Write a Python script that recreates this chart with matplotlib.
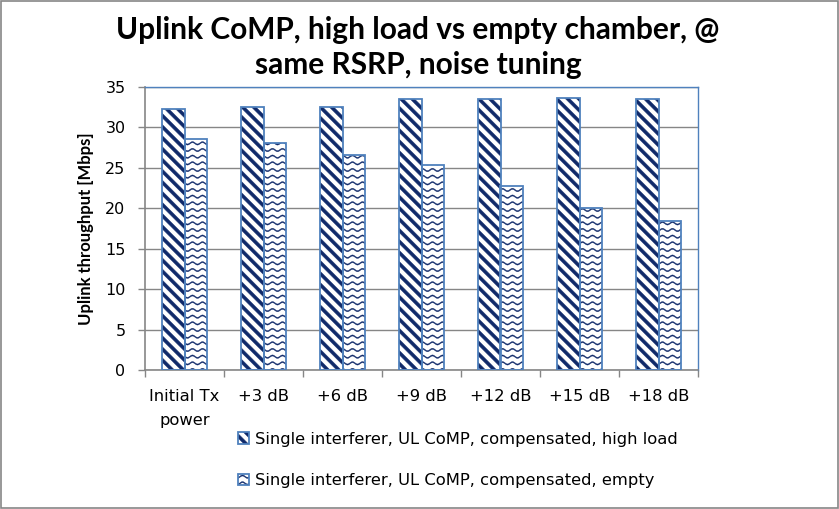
import numpy as np
import matplotlib
matplotlib.use("Agg")
import matplotlib.pyplot as plt
from matplotlib import hatch as mhatch
from matplotlib.path import Path
from matplotlib.patches import Rectangle
from matplotlib.legend_handler import HandlerTuple

# ---- data -------------------------------------------------------------
categories = ["Initial Tx\npower", "+3 dB", "+6 dB", "+9 dB", "+12 dB", "+15 dB", "+18 dB"]
high_load = [32.3, 32.5, 32.5, 33.5, 33.5, 33.7, 33.5]
empty_chamber = [28.6, 28.1, 26.6, 25.4, 22.8, 20.0, 18.4]
series_names = [
    "Single interferer, UL CoMP, compensated, high load",
    "Single interferer, UL CoMP, compensated, empty",
]
y_ticks = [0, 5, 10, 15, 20, 25, 30, 35]
title = "Uplink CoMP, high load vs empty chamber, @\nsame RSRP, noise tuning"
y_label = "Uplink throughput [Mbps]"


# ---- custom fill patterns (office-style wide stripes and waves) --------
class WideStripeHatch(mhatch.HatchPatternBase):
    """Filled diagonal bands running from upper left to lower right ('{')."""
    bands_per_tile = 9
    thickness = 0.045

    def __init__(self, hatch, density):
        n = hatch.count('{')
        self.n_bands = (3 * self.bands_per_tile + 2) if n else 0
        self.num_vertices = self.n_bands * 5

    def set_vertices_and_codes(self, vertices, codes):
        k = np.arange(-2, self.n_bands - 2)
        c = k / self.bands_per_tile
        w = self.thickness
        v = vertices.reshape(self.n_bands, 5, 2)
        v[:, 0] = np.column_stack([np.full_like(c, -1.0), c + 1.0])
        v[:, 1] = np.column_stack([np.full_like(c, 2.0), c - 2.0])
        v[:, 2] = np.column_stack([np.full_like(c, 2.0), c - 2.0 + w])
        v[:, 3] = np.column_stack([np.full_like(c, -1.0), c + 1.0 + w])
        v[:, 4] = v[:, 0]
        cd = codes.reshape(self.n_bands, 5)
        cd[:, 0] = Path.MOVETO
        cd[:, 1:4] = Path.LINETO
        cd[:, 4] = Path.CLOSEPOLY


class WaveHatch(mhatch.HatchPatternBase):
    """Thin horizontal wavy bands ('~')."""
    rows_per_tile = 15
    cycles_per_tile = 10
    amplitude = 0.012
    thickness = 0.011
    samples = 161

    def __init__(self, hatch, density):
        n = hatch.count('~')
        self.n_rows = self.rows_per_tile if n else 0
        self.num_vertices = self.n_rows * (2 * self.samples + 1)

    def set_vertices_and_codes(self, vertices, codes):
        m = 2 * self.samples + 1
        xs = np.linspace(-0.05, 1.05, self.samples)
        wave = self.amplitude * np.sin(2 * np.pi * self.cycles_per_tile * xs)
        v = vertices.reshape(self.n_rows, m, 2)
        cd = codes.reshape(self.n_rows, m)
        for j in range(self.n_rows):
            y0 = (j + 0.5) / self.rows_per_tile
            lower = np.column_stack([xs, y0 + wave - self.thickness / 2])
            upper = np.column_stack([xs[::-1], (y0 + wave + self.thickness / 2)[::-1]])
            v[j, :self.samples] = lower
            v[j, self.samples:2 * self.samples] = upper
            v[j, -1] = lower[0]
            cd[j, 0] = Path.MOVETO
            cd[j, 1:-1] = Path.LINETO
            cd[j, -1] = Path.CLOSEPOLY


mhatch._hatch_types.extend([WideStripeHatch, WaveHatch])
mhatch._validate_hatch_pattern = lambda hatch: None

# ---- styling ------------------------------------------------------------
plt.rcParams["hatch.linewidth"] = 0.3
label_font = ["DejaVu Sans"]
bold_font = ["Lato", "DejaVu Sans"]

navy = "#102A6A"
outline_blue = "#4F81BD"
grey = "#868686"

fig = plt.figure(figsize=(8.39, 5.09), dpi=100)
ax = fig.add_axes([145 / 839, 1 - 370 / 509, 553 / 839, 283 / 509])

x = np.arange(len(categories))
width = 0.29

series = [(high_load, "{", -width / 2), (empty_chamber, "~", width / 2)]
handles = []
for vals, pattern, offset in series:
    filled = ax.bar(x + offset, vals, width, color="white", edgecolor=navy,
                    linewidth=0, hatch=pattern, zorder=2)
    outline = ax.bar(x + offset, vals, width, fill=False, edgecolor=outline_blue,
                     linewidth=1.3, zorder=3)
    handles.append((filled[0], outline[0]))

ax.set_xlim(-0.5, len(categories) - 0.5)
ax.set_ylim(y_ticks[0], y_ticks[-1])
ax.set_yticks(y_ticks)
ax.set_xticks(x)
ax.set_xticks(np.arange(len(categories) + 1) - 0.5, minor=True)
ax.set_xticklabels(categories, fontfamily=label_font, fontsize=11.8, linespacing=1.8)
ax.set_yticklabels([str(t) for t in y_ticks], fontfamily=label_font, fontsize=11.5)

ax.tick_params(axis="x", which="major", length=0, pad=13.5)
ax.tick_params(axis="x", which="minor", length=5, width=1, color=grey, direction="out")
ax.tick_params(axis="y", length=5, width=1, color=grey, direction="out", pad=9)

ax.grid(axis="y", color=grey, linewidth=1, zorder=0)
ax.set_axisbelow(True)
for side in ("left", "bottom"):
    ax.spines[side].set_color(grey)
    ax.spines[side].set_linewidth(1.2)
for side in ("top", "right"):
    ax.spines[side].set_color(outline_blue)
    ax.spines[side].set_linewidth(1.0)

ax.set_ylabel(y_label, fontfamily=bold_font, fontweight="bold", fontsize=12)
ax.yaxis.set_label_coords(-0.092, 0.5)

fig.text(418 / 839, 1 - 47.5 / 509, title, ha="center", va="center",
         fontfamily=bold_font, fontweight="bold", fontsize=21.5, linespacing=1.32)

ax.legend(handles, series_names, handler_map={tuple: HandlerTuple(ndivide=1, pad=0)},
          loc="center left", bbox_to_anchor=(238 / 839, 1 - 460 / 509),
          bbox_transform=fig.transFigure, frameon=False, borderpad=0,
          borderaxespad=0, handlelength=0.7, handleheight=0.7,
          handletextpad=0.35, labelspacing=1.6,
          prop={"family": label_font, "size": 11.8})

fig.patches.append(Rectangle((0.0012, 0.002), 0.9976, 0.996, transform=fig.transFigure,
                             fill=False, edgecolor=grey, linewidth=1.2))

fig.savefig("out.png", dpi=100)
